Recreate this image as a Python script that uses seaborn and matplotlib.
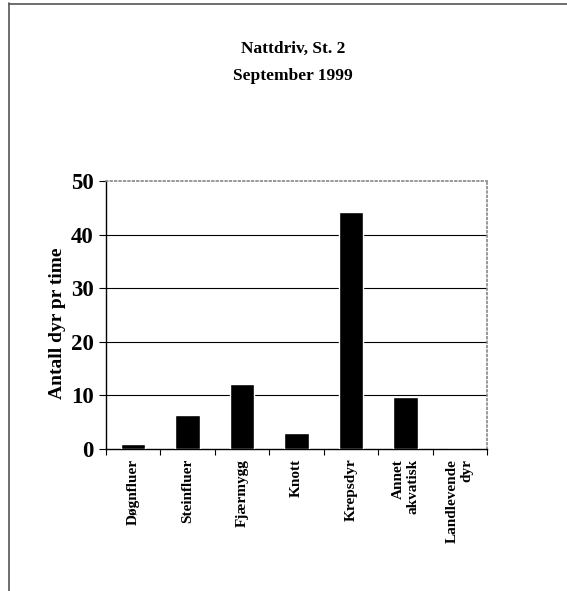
import numpy as np
import pandas as pd
import matplotlib
matplotlib.use("Agg")
import matplotlib.pyplot as plt
from matplotlib.lines import Line2D
import seaborn as sns

# Data
kategorier = ["Døgnfluer", "Steinfluer", "Fjærmygg", "Knott", "Krepsdyr",
              "Annet\nakvatisk", "Landlevende\ndyr"]
antall = [0.9, 6.3, 12.1, 2.9, 44.2, 9.7, 0.0]
y_ticks = [0, 10, 20, 30, 40, 50]

df = pd.DataFrame({"kategori": kategorier, "antall": antall})

sns.set_style("white")
plt.rcParams["font.family"] = ["Liberation Serif", "DejaVu Serif"]
plt.rcParams["font.weight"] = "bold"
plt.rcParams["text.color"] = "black"
plt.rcParams["xtick.color"] = "black"
plt.rcParams["ytick.color"] = "black"
plt.rcParams["axes.labelcolor"] = "black"

fig = plt.figure(figsize=(5.67, 5.91), dpi=100)
ax = fig.add_axes([0.187, 0.2403, 0.672, 0.4535])

sns.barplot(data=df, x="kategori", y="antall", color="black",
            width=0.45, saturation=1, ax=ax, zorder=3)

ax.set_ylim(0, 50)
ax.set_xlim(-0.5, len(kategorier) - 0.5)
ax.set_yticks(y_ticks)
ax.set_yticklabels([str(t) for t in y_ticks], fontsize=16.5, fontweight="bold")
for t in y_ticks[1:-1]:
    ax.axhline(t, color="black", lw=0.8, zorder=1)

# category ticks sit between the bars
ax.set_xticks(range(len(kategorier)))
ax.set_xticklabels(kategorier, rotation=90, fontsize=11, fontweight="bold",
                   va="top", ha="center", multialignment="right")
ax.set_xticks(np.arange(-0.5, len(kategorier), 1), minor=True)
ax.tick_params(axis="x", which="major", bottom=True, length=0, pad=7)
ax.tick_params(axis="x", which="minor", bottom=True, length=4, width=0.8,
               direction="out", color="black")
ax.tick_params(axis="y", left=True, length=5, width=0.8, direction="out",
               color="black", pad=4)

ax.set_xlabel("")
ax.set_ylabel("Antall dyr pr time", fontsize=14, fontweight="bold")
ax.yaxis.set_label_coords(-0.104, 0.47)

for side in ["top", "right"]:
    ax.spines[side].set_color("#888888")
    ax.spines[side].set_linestyle(":")
    ax.spines[side].set_linewidth(1.2)
for side in ["left", "bottom"]:
    ax.spines[side].set_color("black")
    ax.spines[side].set_linewidth(1.0)

fig.text(0.517, 0.918, "Nattdriv, St. 2", ha="center", va="center",
         fontsize=12.5, fontweight="bold")
fig.text(0.517, 0.871, "September 1999", ha="center", va="center",
         fontsize=12.5, fontweight="bold")

# page border (left and top)
fig.add_artist(Line2D([0.016, 0.016], [0, 0.995], color="#555555", lw=1.2))
fig.add_artist(Line2D([0.016, 1.0], [0.993, 0.993], color="#555555", lw=1.2))

fig.savefig("out.png", dpi=100, facecolor="white")
